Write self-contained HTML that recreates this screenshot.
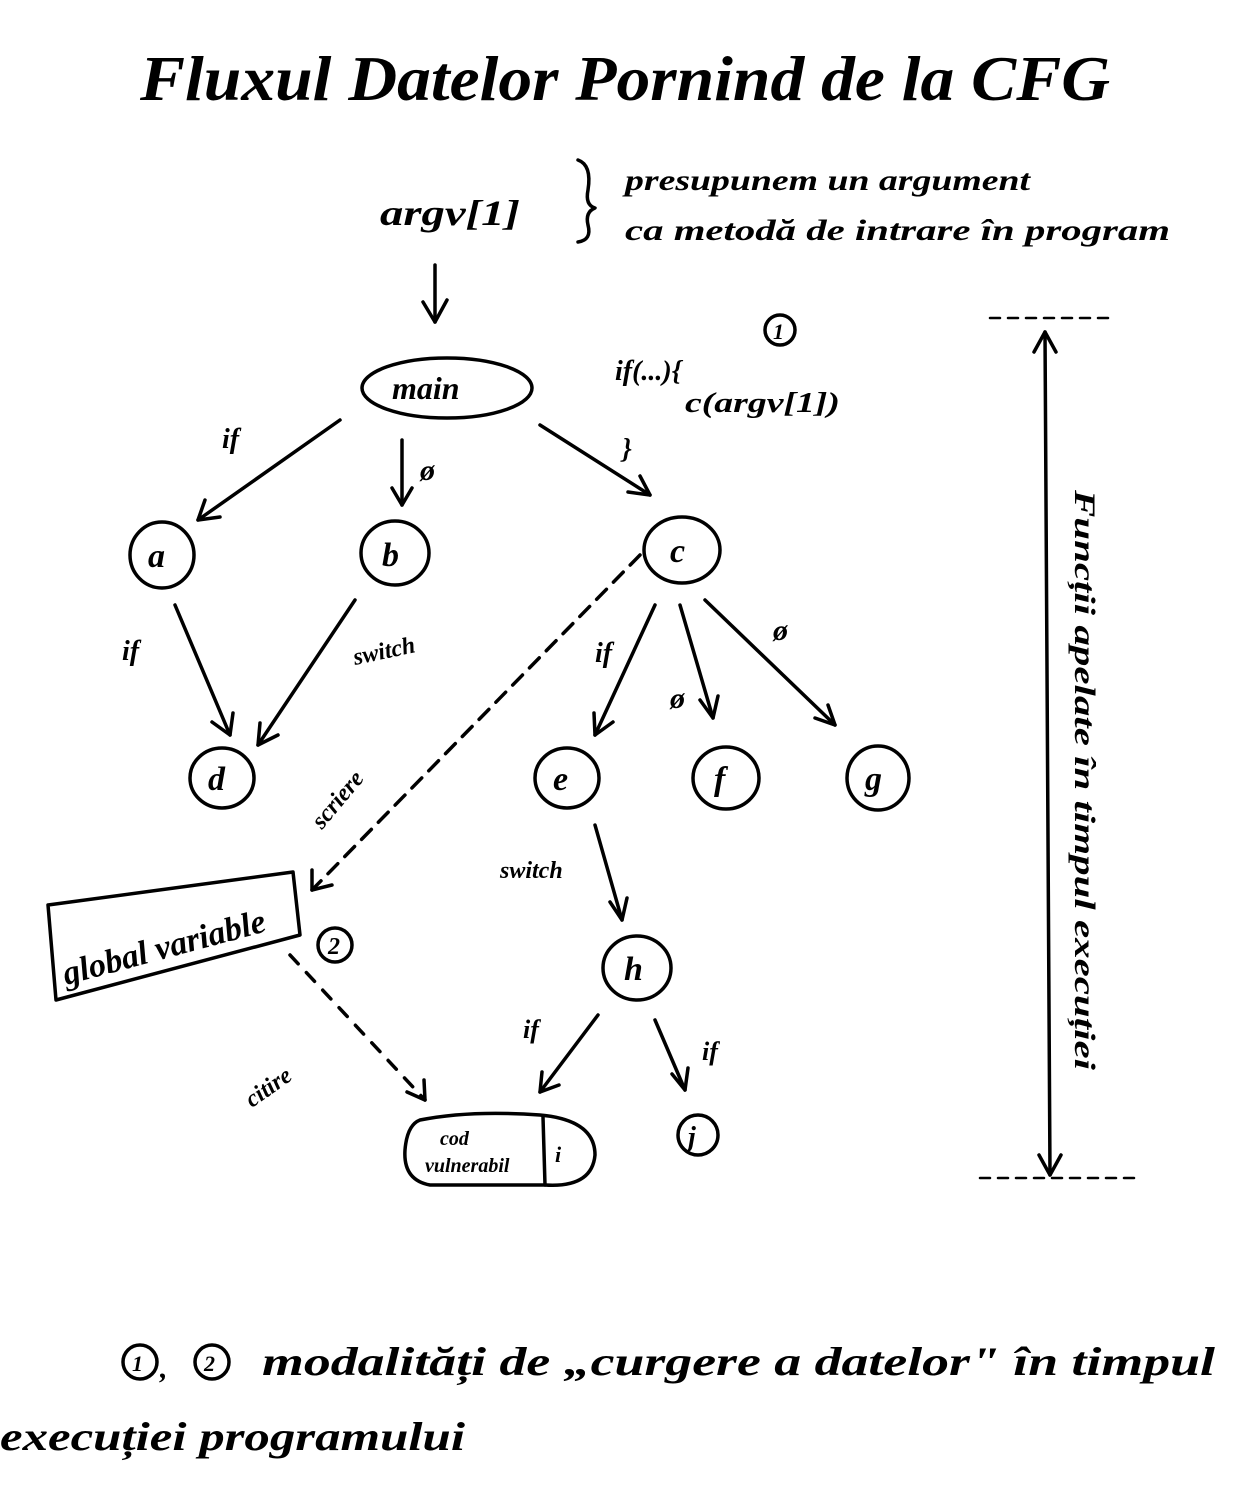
<!DOCTYPE html>
<html><head><meta charset="utf-8"><style>
html,body{margin:0;padding:0;background:#fff;}
svg{display:block}
text{font-family:"Liberation Serif",serif;font-style:italic;font-weight:bold;fill:#000}
</style></head><body>
<svg width="1234" height="1485" viewBox="0 0 1234 1485" xmlns="http://www.w3.org/2000/svg">
<g stroke="#000" stroke-width="3.5" fill="none" stroke-linecap="round" stroke-linejoin="round">
<line x1="435" y1="265" x2="435" y2="322"/><polyline points="423,302 435,322 447,300"/>
<ellipse cx="447" cy="388" rx="85" ry="30"/>
<circle cx="780" cy="330" r="15"/>
<line x1="340" y1="420" x2="198" y2="520"/><polyline points="205,500 198,520 220,517"/>
<line x1="402" y1="440" x2="402" y2="505"/><polyline points="392,488 402,505 412,488"/>
<line x1="540" y1="425" x2="650" y2="495"/><polyline points="628,492 650,495 640,476"/>
<ellipse cx="162" cy="555" rx="32" ry="33"/>
<ellipse cx="395" cy="553" rx="34" ry="32"/>
<ellipse cx="682" cy="550" rx="38" ry="33"/>
<ellipse cx="222" cy="778" rx="32" ry="30"/>
<ellipse cx="567" cy="778" rx="32" ry="30"/>
<ellipse cx="726" cy="778" rx="33" ry="31"/>
<ellipse cx="878" cy="778" rx="31" ry="32"/>
<ellipse cx="637" cy="968" rx="34" ry="32"/>
<circle cx="698" cy="1135" r="20"/>
<circle cx="335" cy="945" r="17"/>
<line x1="175" y1="605" x2="230" y2="735"/><polyline points="212,722 230,735 233,713"/>
<line x1="355" y1="600" x2="258" y2="745"/><polyline points="260,723 258,745 278,735"/>
<line x1="655" y1="605" x2="595" y2="735"/><polyline points="594,713 595,735 613,722"/>
<line x1="680" y1="605" x2="713" y2="718"/><polyline points="700,700 713,718 718,696"/>
<line x1="705" y1="600" x2="835" y2="725"/><polyline points="815,718 835,725 828,705"/>
<line x1="595" y1="825" x2="622" y2="920"/><polyline points="610,902 622,920 627,898"/>
<line x1="598" y1="1015" x2="540" y2="1092"/><polyline points="542,1072 540,1092 559,1085"/>
<line x1="655" y1="1020" x2="685" y2="1090"/><polyline points="672,1074 685,1090 688,1068"/>
<line x1="640" y1="555" x2="312" y2="890" stroke-dasharray="14,10"/><polyline points="312,870 312,890 332,885"/>
<polygon points="48,905 293,872 300,935 56,1000"/>
<line x1="290" y1="955" x2="425" y2="1100" stroke-dasharray="12,12"/><polyline points="407,1092 425,1100 424,1080"/>
<path d="M420,1120 Q470,1110 540,1115 Q595,1120 595,1155 Q592,1188 545,1185 L430,1185 Q403,1180 405,1150 Q407,1125 420,1120 Z"/>
<line x1="543" y1="1117" x2="545" y2="1185"/>
<path d="M578,160 Q592,165 588,190 Q585,205 595,208 Q585,212 588,225 Q592,240 578,242"/>
<line x1="990" y1="318" x2="1115" y2="318" stroke-dasharray="10,8" stroke-width="2.5"/>
<line x1="980" y1="1178" x2="1135" y2="1178" stroke-dasharray="10,8" stroke-width="2.5"/>
<line x1="1045" y1="332" x2="1050" y2="1175"/>
<polyline points="1034,352 1045,332 1056,352"/>
<polyline points="1039,1155 1050,1175 1061,1155"/>
<circle cx="140" cy="1362" r="17"/><circle cx="212" cy="1362" r="17"/>
</g>
<text x="140" y="100" font-size="64" textLength="970" lengthAdjust="spacingAndGlyphs">Fluxul Datelor Pornind de la CFG</text>
<text x="380" y="225" font-size="36" textLength="140" lengthAdjust="spacingAndGlyphs">argv[1]</text>
<text x="625" y="190" font-size="30" textLength="405" lengthAdjust="spacingAndGlyphs">presupunem un argument</text>
<text x="625" y="240" font-size="30" textLength="545" lengthAdjust="spacingAndGlyphs">ca metodă de intrare în program</text>
<text x="392" y="399" font-size="32">main</text>
<text x="773" y="339" font-size="22">1</text>
<text x="615" y="380" font-size="28">if(...){</text>
<text x="685" y="412" font-size="28" textLength="155" lengthAdjust="spacingAndGlyphs">c(argv[1])</text>
<text x="622" y="458" font-size="28">}</text>
<text x="222" y="448" font-size="28">if</text>
<text x="420" y="480" font-size="30">ø</text>
<text x="148" y="567" font-size="34">a</text>
<text x="382" y="566" font-size="34">b</text>
<text x="670" y="562" font-size="34">c</text>
<text x="208" y="790" font-size="34">d</text>
<text x="553" y="790" font-size="34">e</text>
<text x="714" y="790" font-size="34">f</text>
<text x="865" y="790" font-size="34">g</text>
<text x="624" y="980" font-size="34">h</text>
<text x="688" y="1146" font-size="28">j</text>
<text x="328" y="954" font-size="24">2</text>
<text x="122" y="660" font-size="28">if</text>
<text x="355" y="665" font-size="24" transform="rotate(-12 355 665)">switch</text>
<text x="595" y="662" font-size="28">if</text>
<text x="670" y="708" font-size="30">ø</text>
<text x="773" y="640" font-size="30">ø</text>
<text x="322" y="830" font-size="24" transform="rotate(-50 322 830)">scriere</text>
<text x="66" y="985" font-size="34" transform="rotate(-15 66 985)">global variable</text>
<text x="252" y="1108" font-size="24" transform="rotate(-35 252 1108)">citire</text>
<text x="500" y="878" font-size="24">switch</text>
<text x="523" y="1038" font-size="26">if</text>
<text x="702" y="1060" font-size="26">if</text>
<text x="440" y="1145" font-size="20">cod</text>
<text x="425" y="1172" font-size="20">vulnerabil</text>
<text x="555" y="1162" font-size="22">i</text>
<text x="1075" y="490" font-size="30" transform="rotate(90 1075 490)" textLength="580" lengthAdjust="spacingAndGlyphs">Funcții apelate în timpul execuției</text>
<text x="132" y="1371" font-size="22">1</text><text x="160" y="1378" font-size="30">,</text><text x="204" y="1371" font-size="22">2</text>
<text x="262" y="1375" font-size="40" textLength="953" lengthAdjust="spacingAndGlyphs">modalități de „curgere a datelor" în timpul</text>
<text x="0" y="1450" font-size="40" textLength="465" lengthAdjust="spacingAndGlyphs">execuției programului</text>
</svg>
</body></html>
